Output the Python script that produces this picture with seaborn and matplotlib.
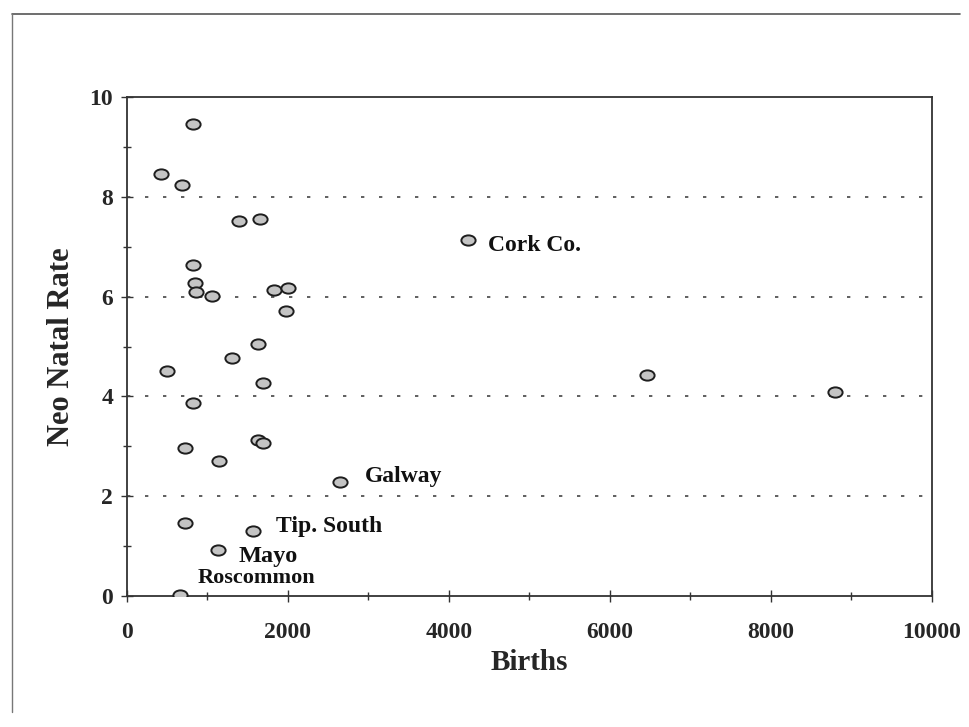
import matplotlib
matplotlib.use("Agg")
import matplotlib.pyplot as plt
import seaborn as sns
import pandas as pd
from matplotlib.ticker import MultipleLocator
from matplotlib.path import Path
from matplotlib.transforms import Affine2D

births = [816, 418, 680, 1391, 1652, 4240, 816, 845, 857, 1052, 1830, 2004, 1971,
          1631, 493, 1300, 1694, 816, 720, 1147, 1631, 1694, 2646, 720, 1561, 1134,
          658, 6456, 8795]
rates = [9.45, 8.45, 8.23, 7.52, 7.55, 7.13, 6.64, 6.27, 6.09, 6.02, 6.13, 6.17, 5.71,
         5.05, 4.50, 4.76, 4.26, 3.87, 2.96, 2.70, 3.12, 3.06, 2.29, 1.47, 1.31, 0.92,
         0.02, 4.43, 4.09]
label_names = ["Cork Co.", "Galway", "Tip. South", "Mayo", "Roscommon"]
label_x = [4240, 2646, 1561, 1134, 658]
label_y = [7.13, 2.29, 1.31, 0.92, 0.02]

df = pd.DataFrame({"Births": births, "Neo Natal Rate": rates})

sns.set_theme(style="white")
plt.rcParams["font.family"] = ["Liberation Serif", "DejaVu Serif"]
plt.rcParams["font.weight"] = "bold"

fig = plt.figure(figsize=(9.7, 7.27), dpi=100)
ax = fig.add_axes([127/970, 1-596/727, (932-127)/970, (596-97)/727])

ellipse = Path.unit_circle().transformed(Affine2D().scale(1.0, 0.72))

sns.scatterplot(data=df, x="Births", y="Neo Natal Rate", ax=ax, s=105,
                marker=ellipse, facecolor="#c4c4c4", edgecolor="#1e1e1e", linewidth=1.4,
                zorder=3)

ax.set_xlim(0, 10000)
ax.set_ylim(0, 10)
ax.xaxis.set_major_locator(MultipleLocator(2000))
ax.xaxis.set_minor_locator(MultipleLocator(1000))
ax.yaxis.set_major_locator(MultipleLocator(2))
ax.yaxis.set_minor_locator(MultipleLocator(1))
ax.tick_params(which="both", direction="inout", length=8, width=1, color="#333333",
               bottom=True, left=True, labelsize=17)
ax.tick_params(which="minor", length=6)
ax.tick_params(axis="x", which="major", pad=15)
ax.tick_params(axis="y", which="major", pad=6)
for lab in ax.get_xticklabels() + ax.get_yticklabels():
    lab.set_fontweight("bold")

for yv in [2, 4, 6, 8]:
    ax.axhline(yv, color="#444444", linestyle=(0, (2, 8.8)), linewidth=1.2, zorder=1)

for sp in ax.spines.values():
    sp.set_color("#333333")
    sp.set_linewidth(1.3)

ax.set_xlabel("Births", fontsize=21, fontweight="bold", labelpad=4)
ax.set_ylabel("Neo Natal Rate", fontsize=22, fontweight="bold", labelpad=10)

offsets = [(14.4, -7.6), (18, 0), (16.6, -0.7), (14.4, -8.6), (13, 8.6)]
sizes = [17, 17, 17, 17.5, 16]
for name, xv, yv, (dx, dy), fs in zip(label_names, label_x, label_y, offsets, sizes):
    ax.annotate(name, (xv, yv), xytext=(dx, dy), textcoords="offset points",
                fontsize=fs, fontweight="bold",
                va="baseline", ha="left", color="#111111")

# scan frame lines
fig.add_artist(plt.Line2D([12/970, 960/970], [1-14/727, 1-14/727], color="#555555", lw=1.2))
fig.add_artist(plt.Line2D([12/970, 12/970], [1-14/727, 1-712/727], color="#777777", lw=1.0))

fig.savefig("out.png", dpi=100)
